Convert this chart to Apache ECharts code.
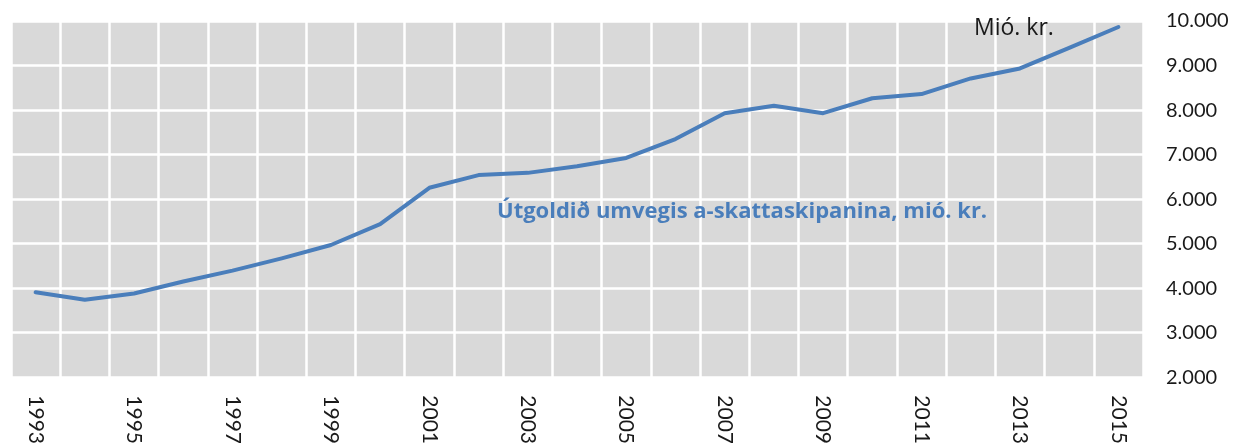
<!DOCTYPE html>
<html>
<head>
<meta charset="utf-8">
<script src="https://cdn.jsdelivr.net/npm/echarts@6/dist/echarts.min.js"></script>
<style>
  html, body { margin: 0; padding: 0; background: #fff; }
  #chart { width: 1244px; height: 447px; }
</style>
</head>
<body>
<div id="chart"></div>
<script>
// ár
const years = ['1993', '1994', '1995', '1996', '1997', '1998', '1999', '2000', '2001', '2002', '2003',
  '2004', '2005', '2006', '2007', '2008', '2009', '2010', '2011', '2012', '2013', '2014', '2015']
// útgoldið, mió. kr.
const spending = [3910, 3740, 3880, 4150, 4395, 4670, 4970, 5440, 6255, 6540, 6590,
  6740, 6925, 7350, 7930, 8095, 7930, 8265, 8360, 8710, 8935, 9395, 9865]
const yTicks = [2000, 10000, 1000] // min, max, interval

const fontFamily = 'Lato, "Open Sans", sans-serif'
const textFamily = '"Open Sans", Lato, sans-serif'

const myChart = echarts.init(document.getElementById('chart'))
const option = {
  animation: false,
  grid: {
    left: 11,
    right: 101,
    top: 21,
    bottom: 68,
    show: true,
    backgroundColor: '#d9d9d9',
    borderWidth: 0
  },
  xAxis: {
    type: 'category',
    data: years,
    boundaryGap: true,
    axisLine: { show: false },
    axisTick: { show: false },
    axisLabel: {
      interval: 1,
      rotate: -90,
      margin: 18,
      color: '#1a1a1a',
      fontSize: 21,
      fontFamily: fontFamily
    },
    splitLine: {
      show: true,
      interval: 0,
      lineStyle: { color: '#ffffff', width: 2.5 }
    }
  },
  yAxis: {
    type: 'value',
    position: 'right',
    min: yTicks[0],
    max: yTicks[1],
    interval: yTicks[2],
    axisLine: { show: false },
    axisTick: { show: false },
    axisLabel: {
      margin: 23,
      color: '#1a1a1a',
      fontSize: 20,
      fontFamily: fontFamily,
      formatter: (v) => String(v).replace(/\B(?=(\d{3})+(?!\d))/g, '.')
    },
    splitLine: {
      lineStyle: { color: '#ffffff', width: 2.5 }
    }
  },
  graphic: [
    {
      type: 'text',
      left: 497,
      top: 201,
      z: 100,
      style: {
        text: 'Útgoldið umvegis a-skattaskipanina, mió. kr.',
        fill: '#4a7ebb',
        font: 'bold 22px ' + textFamily
      }
    },
    {
      type: 'text',
      left: 974,
      top: 17,
      z: 100,
      style: {
        text: 'Mió. kr.',
        fill: '#1a1a1a',
        font: '23px ' + textFamily
      }
    }
  ],
  series: [
    {
      name: 'Útgoldið',
      type: 'line',
      data: spending,
      symbol: 'none',
      lineStyle: { color: '#4a7ebb', width: 4, cap: 'round', join: 'round' }
    }
  ]
}
myChart.setOption(option)
window.addEventListener('resize', () => {
  myChart.resize()
})
</script>
</body>
</html>
